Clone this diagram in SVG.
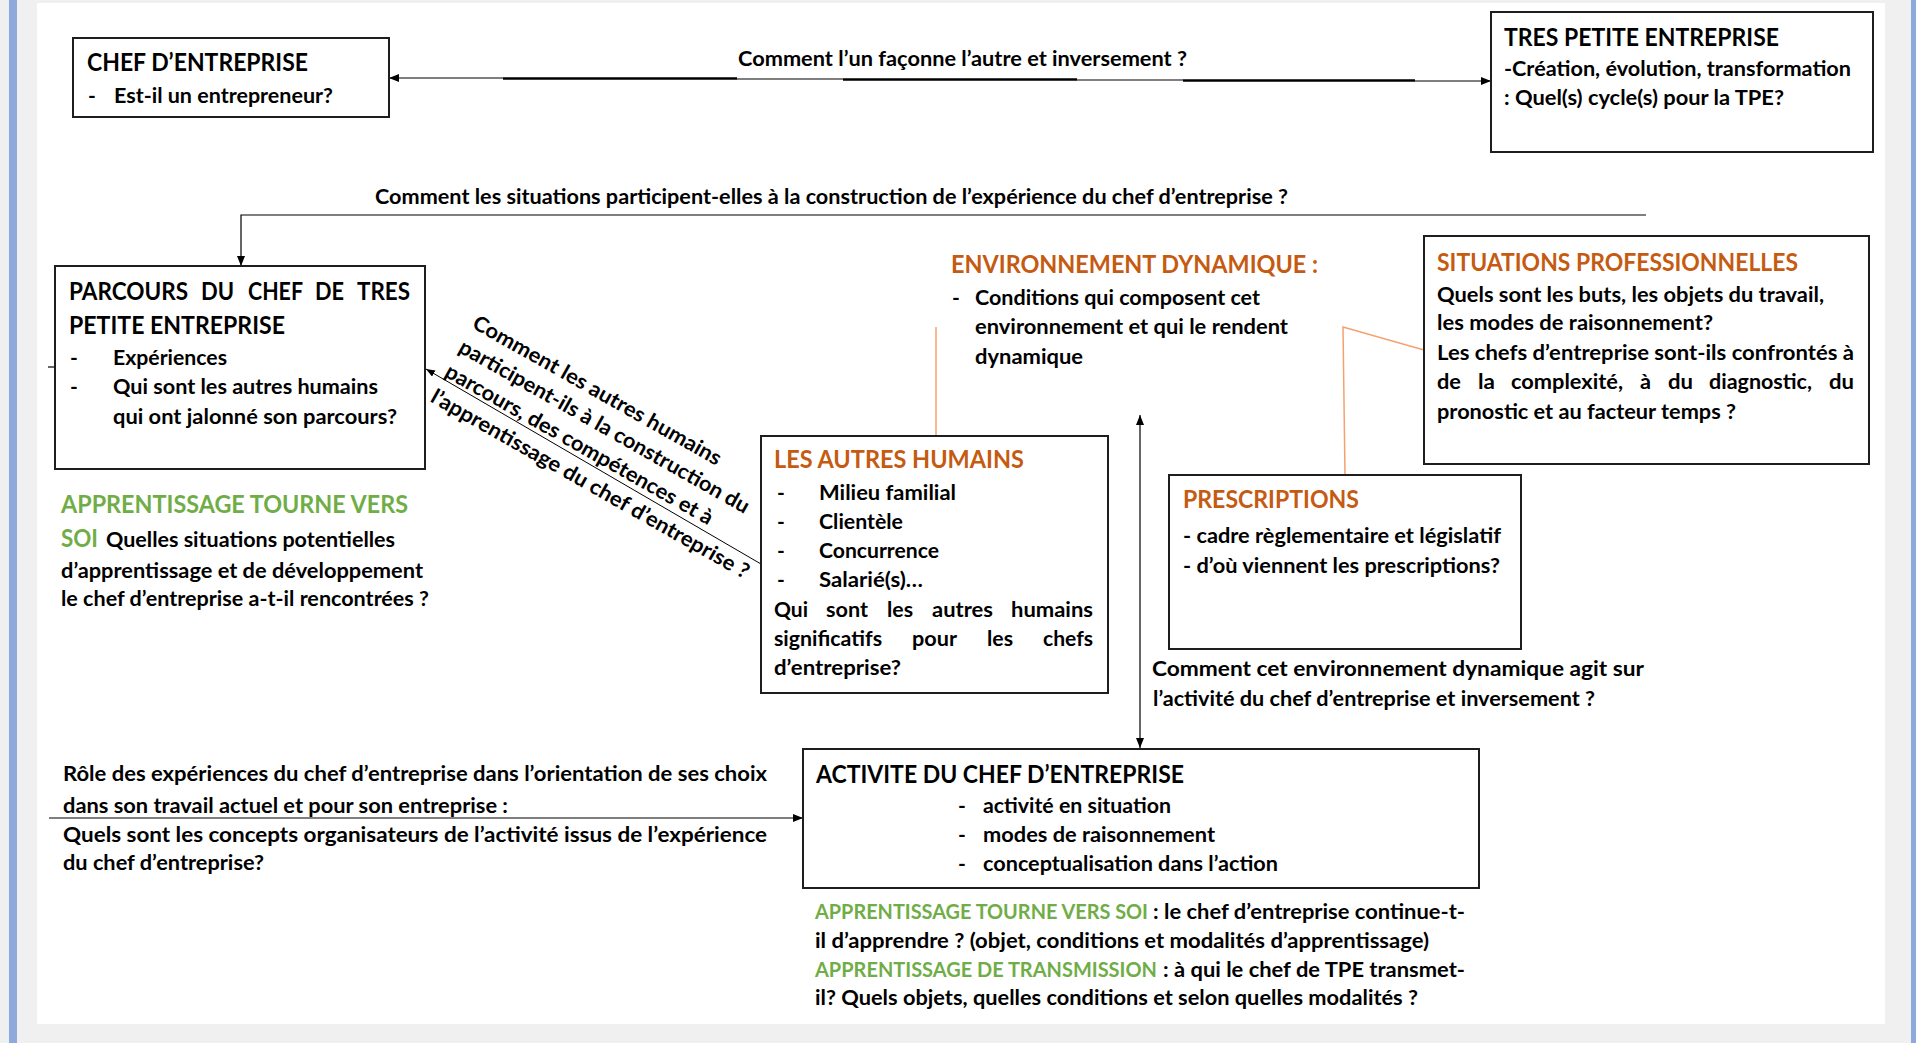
<svg xmlns="http://www.w3.org/2000/svg" width="1916" height="1043" viewBox="0 0 1916 1043">
<style>
text { font-family: Lato, "Liberation Sans", sans-serif; font-weight: 700; fill: #000; }
.t { font-size: 24px; }
.b { font-size: 21px; }
.or { fill: #C55A11; }
.gr { fill: #70AD47; }
.box { fill: #fff; stroke: #1e1e1e; stroke-width: 2; }
.ln { fill: none; stroke: #000; stroke-width: 1.2; }
.lk { fill: none; stroke: #000; stroke-width: 2.4; }
.orl { fill: none; stroke: #F4A16F; stroke-width: 1.5; }
</style>
<defs>
<marker id="ah" viewBox="0 0 10 8" refX="10" refY="4" markerWidth="10" markerHeight="8" markerUnits="userSpaceOnUse" orient="auto-start-reverse"><path d="M0,0 L10,4 L0,8 z" fill="#000"/></marker>
<marker id="ahs" viewBox="0 0 9 7" refX="9" refY="3.5" markerWidth="9" markerHeight="7" markerUnits="userSpaceOnUse" orient="auto-start-reverse"><path d="M0,0 L9,3.5 L0,7 z" fill="#000"/></marker>
</defs>

<rect x="0" y="0" width="1916" height="1043" fill="#f0f0f0"/>
<rect x="9" y="0" width="8" height="1043" fill="#8EA9DB"/>
<rect x="1911" y="0" width="5" height="1043" fill="#8EA9DB"/>
<rect x="37" y="3" width="1848" height="1021" fill="#ffffff"/>

<g id="connectors">
  <path class="ln" d="M389,78 H503" marker-start="url(#ah)"/>
  <path class="lk" d="M503,78.5 H737"/>
  <path class="ln" d="M737,79 H843"/>
  <path class="lk" d="M843,79.5 H1077"/>
  <path class="ln" d="M1077,80 H1183"/>
  <path class="lk" d="M1183,80.5 H1415"/>
  <path class="ln" d="M1415,81 H1491" marker-end="url(#ah)"/>
  <path class="ln" d="M1646,215 H241 V266" marker-end="url(#ah)"/>
  <path class="ln" d="M48,367 H55"/>
  <path fill="none" stroke="#000" stroke-width="1" d="M761,564 L426,369" marker-end="url(#ahs)"/>
  <path class="ln" stroke-width="1.6" d="M1140,415 V748" marker-start="url(#ah)" marker-end="url(#ah)"/>
  <path class="ln" d="M49,818 H803" marker-end="url(#ah)"/>
  <path class="orl" d="M936,327 V436"/>
  <path class="orl" d="M1424,350 L1343,327 L1345,475"/>
</g>

<g id="chef-entreprise">
  <rect class="box" x="73" y="38" width="316" height="79"/>
  <text class="t" x="87" y="71" textLength="221" lengthAdjust="spacingAndGlyphs">CHEF D’ENTREPRISE</text>
  <text class="b" x="88" y="103">-</text>
  <text class="b" x="114" y="103" textLength="219" lengthAdjust="spacingAndGlyphs">Est-il un entrepreneur?</text>
</g>

<g id="question-faconne">
  <text class="b" x="738" y="66" textLength="449" lengthAdjust="spacingAndGlyphs">Comment l’un façonne l’autre et inversement ?</text>
</g>

<g id="tres-petite-entreprise">
  <rect class="box" x="1491" y="12" width="382" height="140"/>
  <text class="t" x="1504" y="46" textLength="275" lengthAdjust="spacingAndGlyphs">TRES PETITE ENTREPRISE</text>
  <text class="b" x="1504" y="76" textLength="347" lengthAdjust="spacingAndGlyphs">-Création, évolution, transformation</text>
  <text class="b" x="1504" y="105" textLength="280" lengthAdjust="spacingAndGlyphs">: Quel(s) cycle(s) pour la TPE?</text>
</g>

<g id="question-situations">
  <text class="b" x="375" y="204" textLength="913" lengthAdjust="spacingAndGlyphs">Comment les situations participent-elles à la construction de l’expérience du chef d’entreprise ?</text>
</g>

<g id="parcours">
  <rect class="box" x="55" y="266" width="370" height="203"/>
  <text class="t" x="69" y="300" textLength="119" lengthAdjust="spacingAndGlyphs">PARCOURS</text>
  <text class="t" x="201" y="300" textLength="33" lengthAdjust="spacingAndGlyphs">DU</text>
  <text class="t" x="248" y="300" textLength="55" lengthAdjust="spacingAndGlyphs">CHEF</text>
  <text class="t" x="315" y="300" textLength="29" lengthAdjust="spacingAndGlyphs">DE</text>
  <text class="t" x="357" y="300" textLength="53" lengthAdjust="spacingAndGlyphs">TRES</text>
  <text class="t" x="69" y="334" textLength="216" lengthAdjust="spacingAndGlyphs">PETITE ENTREPRISE</text>
  <text class="b" x="70" y="365">-</text>
  <text class="b" x="113" y="365" textLength="114" lengthAdjust="spacingAndGlyphs">Expériences</text>
  <text class="b" x="70" y="394">-</text>
  <text class="b" x="113" y="394" textLength="265" lengthAdjust="spacingAndGlyphs">Qui sont les autres humains</text>
  <text class="b" x="113" y="424" textLength="284" lengthAdjust="spacingAndGlyphs">qui ont jalonné son parcours?</text>
</g>

<g id="apprentissage-soi">
  <text class="t gr" x="61" y="513" textLength="347" lengthAdjust="spacingAndGlyphs">APPRENTISSAGE TOURNE VERS</text>
  <text class="t gr" x="61" y="547" textLength="37" lengthAdjust="spacingAndGlyphs">SOI</text>
  <text class="b" x="106" y="547" textLength="289" lengthAdjust="spacingAndGlyphs">Quelles situations potentielles</text>
  <text class="b" x="61" y="578" textLength="362" lengthAdjust="spacingAndGlyphs">d’apprentissage et de développement</text>
  <text class="b" x="61" y="606" textLength="368" lengthAdjust="spacingAndGlyphs">le chef d’entreprise a-t-il rencontrées ?</text>
</g>

<g id="question-autres-humains" transform="translate(444,375) rotate(29.5)">
  <text class="b" x="0" y="-55" textLength="282" lengthAdjust="spacingAndGlyphs">Comment les autres humains</text>
  <text class="b" x="0" y="-27" textLength="330" lengthAdjust="spacingAndGlyphs">participent-ils à la construction du</text>
  <text class="b" x="0" y="1" textLength="304" lengthAdjust="spacingAndGlyphs">parcours, des compétences et à</text>
  <text class="b" x="0" y="30" textLength="362" lengthAdjust="spacingAndGlyphs">l’apprentissage du chef d’entreprise ?</text>
</g>

<g id="autres-humains">
  <rect class="box" x="761" y="436" width="347" height="257"/>
  <text class="t or" x="774" y="468" textLength="250" lengthAdjust="spacingAndGlyphs">LES AUTRES HUMAINS</text>
  <text class="b" x="777" y="500">-</text>
  <text class="b" x="819" y="500" textLength="137" lengthAdjust="spacingAndGlyphs">Milieu familial</text>
  <text class="b" x="777" y="529">-</text>
  <text class="b" x="819" y="529" textLength="84" lengthAdjust="spacingAndGlyphs">Clientèle</text>
  <text class="b" x="777" y="558">-</text>
  <text class="b" x="819" y="558" textLength="120" lengthAdjust="spacingAndGlyphs">Concurrence</text>
  <text class="b" x="777" y="587">-</text>
  <text class="b" x="819" y="587" textLength="104" lengthAdjust="spacingAndGlyphs">Salarié(s)…</text>
  <text class="b" x="774" y="617" textLength="34" lengthAdjust="spacingAndGlyphs">Qui</text>
  <text class="b" x="826" y="617" textLength="42" lengthAdjust="spacingAndGlyphs">sont</text>
  <text class="b" x="887" y="617" textLength="26" lengthAdjust="spacingAndGlyphs">les</text>
  <text class="b" x="932" y="617" textLength="61" lengthAdjust="spacingAndGlyphs">autres</text>
  <text class="b" x="1011" y="617" textLength="82" lengthAdjust="spacingAndGlyphs">humains</text>
  <text class="b" x="774" y="646" textLength="108" lengthAdjust="spacingAndGlyphs">significatifs</text>
  <text class="b" x="912" y="646" textLength="45" lengthAdjust="spacingAndGlyphs">pour</text>
  <text class="b" x="987" y="646" textLength="26" lengthAdjust="spacingAndGlyphs">les</text>
  <text class="b" x="1043" y="646" textLength="50" lengthAdjust="spacingAndGlyphs">chefs</text>
  <text class="b" x="774" y="675" textLength="127" lengthAdjust="spacingAndGlyphs">d’entreprise?</text>
</g>

<g id="environnement-dynamique">
  <text class="t or" x="951" y="273" textLength="367" lengthAdjust="spacingAndGlyphs">ENVIRONNEMENT DYNAMIQUE :</text>
  <text class="b" x="952" y="305">-</text>
  <text class="b" x="975" y="305" textLength="285" lengthAdjust="spacingAndGlyphs">Conditions qui composent cet</text>
  <text class="b" x="975" y="334" textLength="313" lengthAdjust="spacingAndGlyphs">environnement et qui le rendent</text>
  <text class="b" x="975" y="364" textLength="108" lengthAdjust="spacingAndGlyphs">dynamique</text>
</g>

<g id="situations-professionnelles">
  <rect class="box" x="1424" y="236" width="445" height="228"/>
  <text class="t or" x="1437" y="271" textLength="361" lengthAdjust="spacingAndGlyphs">SITUATIONS PROFESSIONNELLES</text>
  <text class="b" x="1437" y="302" textLength="387" lengthAdjust="spacingAndGlyphs">Quels sont les buts, les objets du travail,</text>
  <text class="b" x="1437" y="330" textLength="276" lengthAdjust="spacingAndGlyphs">les modes de raisonnement?</text>
  <text class="b" x="1437" y="360" textLength="417" lengthAdjust="spacingAndGlyphs">Les chefs d’entreprise sont-ils confrontés à</text>
  <text class="b" x="1437" y="389" textLength="24" lengthAdjust="spacingAndGlyphs">de</text>
  <text class="b" x="1478" y="389" textLength="17" lengthAdjust="spacingAndGlyphs">la</text>
  <text class="b" x="1511" y="389" textLength="112" lengthAdjust="spacingAndGlyphs">complexité,</text>
  <text class="b" x="1640" y="389" textLength="11" lengthAdjust="spacingAndGlyphs">à</text>
  <text class="b" x="1668" y="389" textLength="25" lengthAdjust="spacingAndGlyphs">du</text>
  <text class="b" x="1709" y="389" textLength="103" lengthAdjust="spacingAndGlyphs">diagnostic,</text>
  <text class="b" x="1829" y="389" textLength="25" lengthAdjust="spacingAndGlyphs">du</text>
  <text class="b" x="1437" y="419" textLength="299" lengthAdjust="spacingAndGlyphs">pronostic et au facteur temps ?</text>
</g>

<g id="prescriptions">
  <rect class="box" x="1169" y="475" width="352" height="174"/>
  <text class="t or" x="1183" y="508" textLength="176" lengthAdjust="spacingAndGlyphs">PRESCRIPTIONS</text>
  <text class="b" x="1183" y="543" textLength="318" lengthAdjust="spacingAndGlyphs">- cadre règlementaire et législatif</text>
  <text class="b" x="1183" y="573" textLength="317" lengthAdjust="spacingAndGlyphs">- d’où viennent les prescriptions?</text>
</g>

<g id="question-environnement">
  <text class="b" x="1152" y="676" textLength="492" lengthAdjust="spacingAndGlyphs">Comment cet environnement dynamique agit sur</text>
  <text class="b" x="1153" y="706" textLength="442" lengthAdjust="spacingAndGlyphs">l’activité du chef d’entreprise et inversement ?</text>
</g>

<g id="activite">
  <rect class="box" x="803" y="749" width="676" height="139"/>
  <text class="t" x="816" y="783" textLength="368" lengthAdjust="spacingAndGlyphs">ACTIVITE DU CHEF D’ENTREPRISE</text>
  <text class="b" x="958" y="813">-</text>
  <text class="b" x="983" y="813" textLength="188" lengthAdjust="spacingAndGlyphs">activité en situation</text>
  <text class="b" x="958" y="842">-</text>
  <text class="b" x="983" y="842" textLength="232" lengthAdjust="spacingAndGlyphs">modes de raisonnement</text>
  <text class="b" x="958" y="871">-</text>
  <text class="b" x="983" y="871" textLength="295" lengthAdjust="spacingAndGlyphs">conceptualisation dans l’action</text>
</g>

<g id="role-experiences">
  <text class="b" x="63" y="781" textLength="704" lengthAdjust="spacingAndGlyphs">Rôle des expériences du chef d’entreprise dans l’orientation de ses choix</text>
  <text class="b" x="63" y="813" textLength="445" lengthAdjust="spacingAndGlyphs">dans son travail actuel et pour son entreprise :</text>
  <text class="b" x="63" y="842" textLength="704" lengthAdjust="spacingAndGlyphs">Quels sont les concepts organisateurs de l’activité issus de l’expérience</text>
  <text class="b" x="63" y="870" textLength="201" lengthAdjust="spacingAndGlyphs">du chef d’entreprise?</text>
</g>

<g id="apprentissage-activite">
  <text class="b gr" x="815" y="919" textLength="333" lengthAdjust="spacingAndGlyphs">APPRENTISSAGE TOURNE VERS SOI</text>
  <text class="b" x="1153" y="919" textLength="312" lengthAdjust="spacingAndGlyphs">: le chef d’entreprise continue-t-</text>
  <text class="b" x="815" y="948" textLength="614" lengthAdjust="spacingAndGlyphs">il d’apprendre ? (objet, conditions et modalités d’apprentissage)</text>
  <text class="b gr" x="815" y="977" textLength="342" lengthAdjust="spacingAndGlyphs">APPRENTISSAGE DE TRANSMISSION</text>
  <text class="b" x="1163" y="977" textLength="302" lengthAdjust="spacingAndGlyphs">: à qui le chef de TPE transmet-</text>
  <text class="b" x="815" y="1005" textLength="603" lengthAdjust="spacingAndGlyphs">il? Quels objets, quelles conditions et selon quelles modalités ?</text>
</g>
</svg>
